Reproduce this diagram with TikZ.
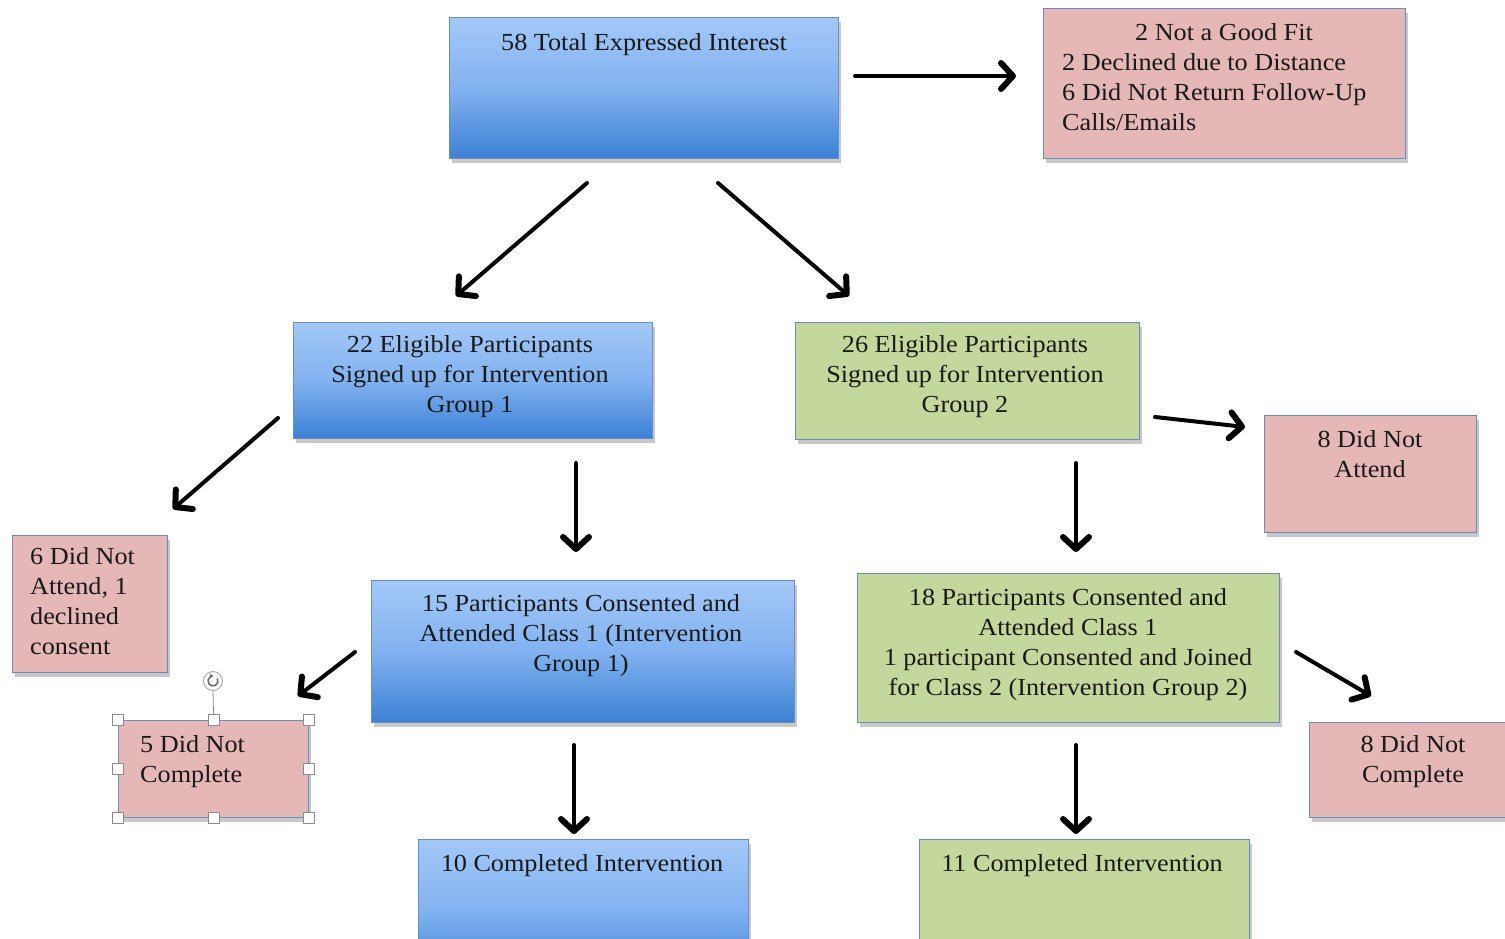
\documentclass[tikz,border=0pt]{standalone}
\usepackage{fontspec}
\setmainfont{Liberation Serif}
\newfontfamily\boxfont[FakeStretch=1.07]{Liberation Serif}
\usetikzlibrary{arrows.meta,shadows}
\definecolor{bluetop}{HTML}{A3C8F8}
\definecolor{bluemid}{HTML}{82B2F0}
\definecolor{bluebot}{HTML}{3A80D4}
\definecolor{greenfill}{HTML}{C4D79C}
\definecolor{pinkfill}{HTML}{E5B7B7}
\definecolor{edgecol}{HTML}{6A8CC0}
\tikzset{
  box/.style={draw=edgecol, line width=1.3pt, inner sep=0pt, anchor=north west,
    drop shadow={shadow xshift=2pt, shadow yshift=-4pt, opacity=0.3, fill=black!70}},
  bluebox/.style={box, top color=bluetop, bottom color=bluebot, middle color=bluemid},
  greenbox/.style={box, fill=greenfill},
  pinkbox/.style={box, fill=pinkfill},
  txt/.style={inner sep=0pt, font=\boxfont\fontsize{24.5}{30}\selectfont, align=center, anchor=north, text=black!90},
  ltxt/.style={txt, align=left, anchor=north west},
  arr/.style={line width=4pt, line cap=round, -{Straight Barb[length=12pt,width=26pt,line width=6pt,round]}},
  handle/.style={draw=black!45, fill=white, line width=0.8pt, minimum size=11pt, inner sep=0pt}
}
\newcommand{\mybox}[6]{% style, name, x1, y1, x2, y2
  \node[#1, minimum width={(#5-#3)*1pt}, minimum height={(#6-#4)*1pt}] (#2) at (#3,#4) {};}
\begin{document}
\begin{tikzpicture}[x=1pt,y=-1pt]
\useasboundingbox (0,0) rectangle (1505,939);
\clip (0,0) rectangle (1505,939);
\fill[white] (0,0) rectangle (1505,939);
% boxes
\mybox{bluebox}{top}{449}{17}{838}{158}
\mybox{pinkbox}{excl}{1043}{8}{1405}{158}
\mybox{bluebox}{g1}{293}{322}{652}{438}
\mybox{greenbox}{g2}{795}{322}{1139}{439}
\mybox{pinkbox}{na2}{1264}{415}{1476}{532}
\mybox{pinkbox}{na1}{12}{535}{167}{672}
\mybox{bluebox}{c1}{371}{580}{794}{722}
\mybox{pinkbox}{nc1}{118}{720}{308}{817}
\mybox{bluebox}{comp1}{418}{839}{748}{980}
\mybox{greenbox}{c2}{857}{573}{1279}{722}
\mybox{pinkbox}{nc2}{1309}{722}{1530}{817}
\mybox{greenbox}{comp2}{919}{839}{1249}{980}
% texts
\node[txt] (ttop) at (644,33) {58 Total Expressed Interest};
\node[txt] (texcla) at (1224,23) {2 Not a Good Fit};
\node[ltxt] (texclb) at (1062,53) {2 Declined due to Distance\\6 Did Not Return Follow-Up\\Calls/Emails};
\node[txt] (tg1) at (470,335) {22 Eligible Participants\\Signed up for Intervention\\Group 1};
\node[txt] (tg2) at (965,335) {26 Eligible Participants\\Signed up for Intervention\\Group 2};
\node[txt] (tna2) at (1370,430) {8 Did Not\\Attend};
\node[ltxt] (tna1) at (30,547) {6 Did Not\\Attend, 1\\declined\\consent};
\node[txt] (tc1) at (581,594) {15 Participants Consented and\\Attended Class 1 (Intervention\\Group 1)};
\node[ltxt] (tnc1) at (140,735) {5 Did Not\\Complete};
\node[txt] (tcomp1) at (582,854) {10 Completed Intervention};
\node[txt] (tc2) at (1068,588) {18 Participants Consented and\\Attended Class 1\\1 participant Consented and Joined\\for Class 2 (Intervention Group 2)};
\node[txt] (tnc2) at (1413,735) {8 Did Not\\Complete};
\node[txt] (tcomp2) at (1082,854) {11 Completed Intervention};
% arrow end points
\coordinate (a1s) at (855,76);   \coordinate (a1e) at (1016,76);
\coordinate (a2s) at (587,183);  \coordinate (a2e) at (456,296);
\coordinate (a3s) at (718,183);  \coordinate (a3e) at (849,296);
\coordinate (a4s) at (1155,417); \coordinate (a4e) at (1245,427);
\coordinate (a5s) at (278,418);  \coordinate (a5e) at (173,509);
\coordinate (a6s) at (576,463);  \coordinate (a6e) at (576,552);
\coordinate (a7s) at (355,652);  \coordinate (a7e) at (298,696);
\coordinate (a8s) at (574,745);  \coordinate (a8e) at (574,834);
\coordinate (a9s) at (1076,463); \coordinate (a9e) at (1076,552);
\coordinate (a10s) at (1296,652); \coordinate (a10e) at (1371,696);
\coordinate (a11s) at (1076,745); \coordinate (a11e) at (1076,834);
\foreach \i in {1,...,11} {\draw[arr] (a\i s) -- (a\i e);}
% selection handles on nc1
\draw[black!45, line width=0.8pt] (213,690) -- (nc1.north);
\node[draw=black!35, fill=white, circle, minimum size=19pt, inner sep=0pt, line width=0.9pt] (rot) at (213,681) {};
\draw[black!60, line width=1.6pt, -{Stealth[length=3.5pt,width=5pt]}] ([shift={(30:5pt)}]rot.center) arc[start angle=30, end angle=-270, radius=5pt];
\foreach \a in {north west,north,north east,west,east,south west,south,south east}
  \node[handle] at (nc1.\a) {};
\end{tikzpicture}
\end{document}
